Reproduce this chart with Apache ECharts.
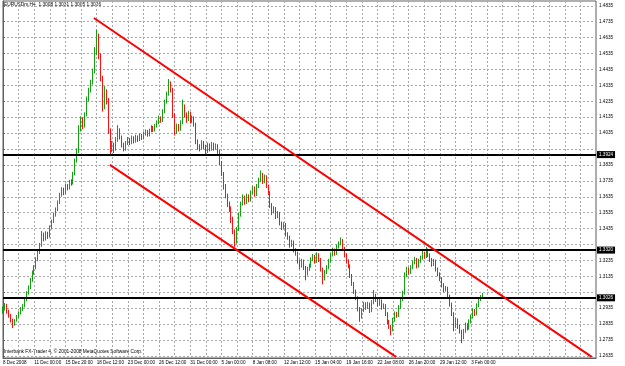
<!DOCTYPE html>
<html>
<head>
<meta charset="utf-8">
<script src="https://cdn.jsdelivr.net/npm/echarts@6/dist/echarts.min.js"></script>
<style>html,body{margin:0;padding:0;background:#fff}#c{width:625px;height:366px}</style>
</head>
<body>
<div id="c"></div>
<script>
// ---- data ----
const title = "EURUSDm,H4  1.3008 1.3031 1.3005 1.3026";
const copyright = "Interbank FX-Trader 4, \u00a9 2001-2008 MetaQuotes Software Corp.";
const timeLabels = ["8 Dec 2008","11 Dec 00:00","15 Dec 20:00","18 Dec 12:00","23 Dec 00:00","26 Dec 12:00","31 Dec 00:00","5 Jan 00:00","8 Jan 08:00","12 Jan 12:00","15 Jan 04:00","19 Jan 16:00","22 Jan 08:00","26 Jan 20:00","29 Jan 12:00","3 Feb 00:00"];
const priceTicks = [1.2635,1.2735,1.2835,1.2935,1.3035,1.3135,1.3235,1.3335,1.3435,1.3535,1.3635,1.3735,1.3835,1.3935,1.4035,1.4135,1.4235,1.4335,1.4435,1.4535,1.4635,1.4735,1.4835];
const levels = [1.3924, 1.3320, 1.3026];
const upperChannel = [[46.6, 1.4758], [301.8, 1.2629]];
const lowerChannel = [[54.8, 1.3835], [201.5, 1.2629]];

const open = [1.2915,1.2930,1.2955,1.2912,1.2890,1.2860,1.2835,1.2858,1.2880,1.2905,1.2930,1.2948,1.2985,1.3030,1.3065,1.3110,1.3160,1.3190,1.3240,1.3290,
1.3330,1.3395,1.3370,1.3405,1.3385,1.3440,1.3480,1.3520,1.3555,1.3600,1.3645,1.3680,1.3660,1.3705,1.3690,1.3730,1.3720,1.3780,1.3860,1.3920,
1.4060,1.4120,1.4080,1.4150,1.4250,1.4300,1.4350,1.4420,1.4540,1.4640,1.4520,1.4380,1.4200,1.4290,1.4240,1.4050,1.3930,1.3960,1.3935,1.3990,
1.4050,1.4010,1.3960,1.3935,1.3970,1.3995,1.3975,1.4005,1.3985,1.4010,1.3995,1.4020,1.4005,1.4030,1.4045,1.4025,1.4050,1.4070,1.4055,1.4080,
1.4100,1.4130,1.4115,1.4170,1.4230,1.4280,1.4340,1.4310,1.4150,1.4040,1.4080,1.4060,1.4100,1.4200,1.4150,1.4120,1.4160,1.4110,1.4130,1.4090,
1.3980,1.3950,1.3940,1.3975,1.3950,1.3920,1.3960,1.3935,1.3965,1.3940,1.3955,1.3920,1.3850,1.3780,1.3700,1.3640,1.3590,1.3560,1.3500,1.3420,
1.3350,1.3430,1.3520,1.3590,1.3630,1.3600,1.3640,1.3615,1.3660,1.3690,1.3650,1.3700,1.3740,1.3770,1.3730,1.3760,1.3700,1.3660,1.3580,1.3540,
1.3560,1.3510,1.3530,1.3470,1.3440,1.3460,1.3400,1.3380,1.3330,1.3350,1.3300,1.3280,1.3230,1.3200,1.3230,1.3190,1.3150,1.3180,1.3200,1.3240,
1.3260,1.3230,1.3270,1.3240,1.3180,1.3120,1.3160,1.3190,1.3230,1.3270,1.3300,1.3280,1.3320,1.3340,1.3360,1.3310,1.3270,1.3230,1.3200,1.3140,
1.3090,1.3040,1.3000,1.2930,1.2880,1.2920,1.2960,1.2940,1.2960,1.2920,1.2970,1.3010,1.2990,1.2960,1.2980,1.2940,1.2950,1.2900,1.2850,1.2820,
1.2800,1.2860,1.2900,1.2890,1.2940,1.2990,1.3030,1.3140,1.3180,1.3160,1.3190,1.3220,1.3240,1.3200,1.3230,1.3250,1.3280,1.3260,1.3300,1.3270,
1.3240,1.3210,1.3230,1.3180,1.3150,1.3120,1.3080,1.3050,1.3060,1.3010,1.2960,1.2900,1.2820,1.2860,1.2820,1.2790,1.2750,1.2790,1.2830,1.2810,
1.2850,1.2880,1.2920,1.2900,1.2950,1.2990,1.3008];

const close = [1.2930,1.2955,1.2912,1.2890,1.2860,1.2835,1.2858,1.2880,1.2905,1.2930,1.2948,1.2985,1.3030,1.3065,1.3110,1.3160,1.3190,1.3240,1.3290,1.3330,
1.3395,1.3370,1.3405,1.3385,1.3440,1.3480,1.3520,1.3555,1.3600,1.3645,1.3680,1.3660,1.3705,1.3690,1.3730,1.3720,1.3780,1.3860,1.3920,1.4060,
1.4120,1.4080,1.4150,1.4250,1.4300,1.4350,1.4420,1.4540,1.4640,1.4520,1.4380,1.4200,1.4290,1.4240,1.4050,1.3930,1.3960,1.3935,1.3990,1.4050,
1.4010,1.3960,1.3935,1.3970,1.3995,1.3975,1.4005,1.3985,1.4010,1.3995,1.4020,1.4005,1.4030,1.4045,1.4025,1.4050,1.4070,1.4055,1.4080,1.4100,
1.4130,1.4115,1.4170,1.4230,1.4280,1.4340,1.4310,1.4150,1.4040,1.4080,1.4060,1.4100,1.4200,1.4150,1.4120,1.4160,1.4110,1.4130,1.4090,1.3980,
1.3950,1.3940,1.3975,1.3950,1.3920,1.3960,1.3935,1.3965,1.3940,1.3955,1.3920,1.3850,1.3780,1.3700,1.3640,1.3590,1.3560,1.3500,1.3420,1.3350,
1.3430,1.3520,1.3590,1.3630,1.3600,1.3640,1.3615,1.3660,1.3690,1.3650,1.3700,1.3740,1.3770,1.3730,1.3760,1.3700,1.3660,1.3580,1.3540,1.3560,
1.3510,1.3530,1.3470,1.3440,1.3460,1.3400,1.3380,1.3330,1.3350,1.3300,1.3280,1.3230,1.3200,1.3230,1.3190,1.3150,1.3180,1.3200,1.3240,1.3260,
1.3230,1.3270,1.3240,1.3180,1.3120,1.3160,1.3190,1.3230,1.3270,1.3300,1.3280,1.3320,1.3340,1.3360,1.3310,1.3270,1.3230,1.3200,1.3140,1.3090,
1.3040,1.3000,1.2930,1.2880,1.2920,1.2960,1.2940,1.2960,1.2920,1.2970,1.3010,1.2990,1.2960,1.2980,1.2940,1.2950,1.2900,1.2850,1.2820,1.2800,
1.2860,1.2900,1.2890,1.2940,1.2990,1.3030,1.3140,1.3180,1.3160,1.3190,1.3220,1.3240,1.3200,1.3230,1.3250,1.3280,1.3260,1.3300,1.3270,1.3240,
1.3210,1.3230,1.3180,1.3150,1.3120,1.3080,1.3050,1.3060,1.3010,1.2960,1.2900,1.2820,1.2860,1.2820,1.2790,1.2750,1.2790,1.2830,1.2810,1.2850,
1.2880,1.2920,1.2900,1.2950,1.2990,1.3008,1.3026];

const high = [1.2945,1.2968,1.2962,1.2925,1.2898,1.2870,1.2866,1.2892,1.2915,1.2942,1.2960,1.2995,1.3042,1.3078,1.3125,1.3172,1.3205,1.3255,1.3302,1.3345,
1.3420,1.3410,1.3418,1.3415,1.3455,1.3492,1.3535,1.3568,1.3612,1.3660,1.3695,1.3692,1.3718,1.3715,1.3742,1.3745,1.3792,1.3875,1.3940,1.4085,
1.4140,1.4135,1.4165,1.4265,1.4320,1.4370,1.4440,1.4575,1.4685,1.4660,1.4535,1.4395,1.4330,1.4310,1.4255,1.4065,1.3985,1.3975,1.4010,1.4085,
1.4065,1.4020,1.3975,1.3985,1.4010,1.4005,1.4020,1.4015,1.4025,1.4020,1.4032,1.4030,1.4045,1.4058,1.4055,1.4062,1.4085,1.4080,1.4092,1.4115,
1.4145,1.4140,1.4185,1.4245,1.4295,1.4375,1.4360,1.4320,1.4160,1.4095,1.4092,1.4115,1.4245,1.4215,1.4165,1.4175,1.4170,1.4145,1.4140,1.4100,
1.3995,1.3965,1.3990,1.3985,1.3962,1.3975,1.3970,1.3980,1.3975,1.3970,1.3965,1.3930,1.3860,1.3790,1.3715,1.3655,1.3605,1.3575,1.3510,1.3430,
1.3445,1.3535,1.3605,1.3650,1.3642,1.3655,1.3650,1.3675,1.3705,1.3700,1.3715,1.3755,1.3800,1.3785,1.3775,1.3770,1.3712,1.3670,1.3595,1.3575,
1.3570,1.3545,1.3540,1.3480,1.3475,1.3470,1.3412,1.3390,1.3365,1.3360,1.3312,1.3290,1.3242,1.3245,1.3240,1.3200,1.3195,1.3215,1.3255,1.3275,
1.3270,1.3285,1.3280,1.3250,1.3190,1.3175,1.3205,1.3245,1.3285,1.3315,1.3310,1.3335,1.3355,1.3380,1.3370,1.3320,1.3280,1.3242,1.3210,1.3150,
1.3100,1.3052,1.3010,1.2942,1.2935,1.2975,1.2972,1.2975,1.2970,1.2985,1.3050,1.3025,1.3000,1.2995,1.2990,1.2965,1.2960,1.2910,1.2862,1.2830,
1.2875,1.2915,1.2912,1.2955,1.3005,1.3045,1.3160,1.3195,1.3192,1.3205,1.3235,1.3258,1.3250,1.3245,1.3265,1.3295,1.3290,1.3320,1.3310,1.3280,
1.3250,1.3245,1.3240,1.3190,1.3160,1.3130,1.3092,1.3075,1.3070,1.3020,1.2970,1.2910,1.2875,1.2870,1.2830,1.2800,1.2805,1.2845,1.2840,1.2865,
1.2895,1.2935,1.2930,1.2965,1.3002,1.3018,1.3031];

const low = [1.2900,1.2920,1.2900,1.2875,1.2845,1.2810,1.2825,1.2850,1.2872,1.2896,1.2918,1.2940,1.2978,1.3020,1.3055,1.3100,1.3145,1.3180,1.3230,1.3275,
1.3320,1.3355,1.3360,1.3370,1.3378,1.3430,1.3470,1.3510,1.3545,1.3590,1.3635,1.3645,1.3650,1.3675,1.3680,1.3705,1.3712,1.3770,1.3850,1.3910,
1.4045,1.4060,1.4070,1.4140,1.4235,1.4290,1.4340,1.4410,1.4525,1.4500,1.4360,1.4170,1.4185,1.4215,1.4030,1.3895,1.3915,1.3910,1.3925,1.3980,
1.3995,1.3945,1.3920,1.3925,1.3960,1.3960,1.3965,1.3970,1.3975,1.3980,1.3985,1.3992,1.3995,1.4020,1.4012,1.4015,1.4040,1.4042,1.4045,1.4070,
1.4090,1.4100,1.4105,1.4160,1.4220,1.4270,1.4290,1.4130,1.4020,1.4030,1.4045,1.4050,1.4090,1.4135,1.4100,1.4110,1.4095,1.4100,1.4075,1.3965,
1.3930,1.3920,1.3930,1.3935,1.3900,1.3910,1.3920,1.3925,1.3925,1.3930,1.3905,1.3835,1.3765,1.3680,1.3625,1.3570,1.3540,1.3470,1.3400,1.3320,
1.3340,1.3420,1.3510,1.3580,1.3585,1.3590,1.3600,1.3605,1.3650,1.3635,1.3640,1.3690,1.3730,1.3715,1.3720,1.3690,1.3645,1.3565,1.3520,1.3530,
1.3495,1.3500,1.3455,1.3425,1.3430,1.3385,1.3365,1.3315,1.3320,1.3285,1.3265,1.3215,1.3180,1.3190,1.3175,1.3110,1.3140,1.3170,1.3190,1.3230,
1.3215,1.3220,1.3225,1.3165,1.3085,1.3110,1.3150,1.3180,1.3220,1.3260,1.3265,1.3270,1.3310,1.3330,1.3295,1.3255,1.3215,1.3185,1.3125,1.3075,
1.3025,1.2985,1.2915,1.2850,1.2870,1.2910,1.2925,1.2930,1.2905,1.2910,1.2960,1.2975,1.2945,1.2950,1.2925,1.2930,1.2885,1.2835,1.2805,1.2765,
1.2790,1.2850,1.2875,1.2880,1.2930,1.2980,1.3020,1.3130,1.3145,1.3150,1.3180,1.3210,1.3185,1.3190,1.3220,1.3240,1.3245,1.3250,1.3255,1.3225,
1.3195,1.3200,1.3165,1.3135,1.3105,1.3065,1.3035,1.3040,1.2995,1.2945,1.2885,1.2790,1.2810,1.2805,1.2775,1.2715,1.2740,1.2780,1.2795,1.2800,
1.2840,1.2870,1.2885,1.2890,1.2940,1.2980,1.3005];

// ---- chart ----
const rows = close.map((c, i) => [i, open[i], c, low[i], high[i]]);
const nearLevel = v => levels.some(l => Math.abs(l - v) < 0.0025);
const FONT = 'Liberation Sans';

const chart = echarts.init(document.getElementById('c'), null, {renderer: 'canvas'});
chart.setOption({
  animation: false,
  backgroundColor: '#ffffff',
  grid: {left: 2, right: 29, top: 1, bottom: 8, show: true, borderColor: '#606060', borderWidth: 1},
  xAxis: {
    type: 'value', min: 0, max: 304, interval: 8,
    axisLine: {show: true, lineStyle: {color: '#606060', width: 1}},
    axisTick: {show: false},
    splitLine: {show: true, lineStyle: {color: '#a8a8a8', type: [2, 2], width: 1}},
    axisLabel: {
      show: true, align: 'left', margin: 2, fontSize: 4.6, fontFamily: FONT, color: '#000',
      showMinLabel: true, showMaxLabel: true, hideOverlap: false,
      formatter: v => (v % 16 === 0 && timeLabels[v / 16]) ? timeLabels[v / 16] : ''
    }
  },
  yAxis: {
    type: 'value', position: 'right', min: 1.2622, max: 1.4865, scale: true,
    axisLine: {show: true, lineStyle: {color: '#606060', width: 1}},
    axisTick: {show: true, length: 2, customValues: priceTicks, lineStyle: {color: '#606060'}},
    splitLine: {show: true, lineStyle: {color: '#a8a8a8', type: [2, 2], width: 1}},
    axisLabel: {
      show: true, customValues: priceTicks, margin: 3, fontSize: 4.6, fontFamily: FONT, color: '#000',
      formatter: v => nearLevel(v) ? '' : v.toFixed(4)
    }
  },
  graphic: [
    {type: 'text', left: 4, top: 2, style: {text: title, fontSize: 4.8, fontFamily: FONT, fill: '#000'}},
    {type: 'text', left: 4, top: 349, style: {text: copyright, fontSize: 4.8, fontFamily: FONT, fill: '#000'}}
  ],
  series: [{
    type: 'candlestick',
    data: rows,
    encode: {x: 0, y: [1, 2, 3, 4]},
    barWidth: 1.1,
    itemStyle: {color: '#13a013', color0: '#ff1010', borderColor: '#13a013', borderColor0: '#ff1010', borderWidth: 1},
    markLine: {
      silent: true, symbol: ['none', 'none'], animation: false,
      data: [
        ...levels.map(l => ({
          yAxis: l,
          lineStyle: {color: '#000', width: 2, type: 'solid'},
          label: {show: true, position: 'end', distance: 1, formatter: l.toFixed(4), backgroundColor: '#000', color: '#fff',
                  fontSize: 4.6, fontFamily: FONT, padding: [1, 2]}
        })),
        [{coord: upperChannel[0], lineStyle: {color: '#ff0000', width: 2, type: 'solid'}, label: {show: false}},
         {coord: upperChannel[1]}],
        [{coord: lowerChannel[0], lineStyle: {color: '#ff0000', width: 2, type: 'solid'}, label: {show: false}},
         {coord: lowerChannel[1]}]
      ]
    }
  }]
});
</script>
</body>
</html>
